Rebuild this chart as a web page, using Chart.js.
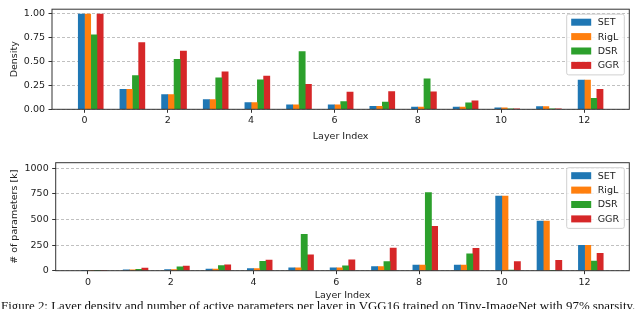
<!DOCTYPE html>
<html>
<head>
<meta charset="utf-8">
<script src="https://cdn.jsdelivr.net/npm/chart.js@4.4.0/dist/chart.umd.min.js"></script>
<style>
  html, body { margin: 0; padding: 0; background: #fff; overflow: hidden; }
  #wrap { position: relative; width: 640px; height: 309px; }
  canvas { position: absolute; left: 0; }
  #c1 { top: 0; }
  #c2 { top: 150px; }
  #caption {
    position: absolute; left: 1px; top: 300px;
    font-family: "Liberation Serif", serif; font-size: 12.9px; line-height: 12.9px;
    white-space: nowrap; color: #111;
  }
</style>
</head>
<body>
<div id="wrap">
  <canvas id="c1" width="640" height="146"></canvas>
  <canvas id="c2" width="640" height="152"></canvas>
  <div id="caption">Figure 2: Layer density and number of active parameters per layer in VGG16 trained on Tiny-ImageNet with 97% sparsity.</div>
</div>
<script>
const layers = [0, 1, 2, 3, 4, 5, 6, 7, 8, 9, 10, 11, 12];
const seriesNames = ['SET', 'RigL', 'DSR', 'GGR'];

const densitySET  = [1.00, 0.21, 0.155, 0.103, 0.071, 0.048, 0.048, 0.032, 0.022, 0.022, 0.016, 0.029, 0.306];
const densityRigL = [1.00, 0.21, 0.155, 0.103, 0.071, 0.048, 0.048, 0.032, 0.022, 0.022, 0.016, 0.029, 0.306];
const densityDSR  = [0.78, 0.355, 0.523, 0.33, 0.31, 0.606, 0.08, 0.077, 0.32, 0.068, 0.0002, 0.0002, 0.116];
const densityGGR  = [1.00, 0.70, 0.61, 0.393, 0.348, 0.261, 0.18, 0.187, 0.184, 0.09, 0.002, 0.004, 0.209];

const paramsSET  = [1.7, 7.7, 11.4, 15.2, 21, 28.3, 28.3, 40, 54, 54, 730, 485, 248];
const paramsRigL = [1.7, 7.7, 11.4, 15.2, 21, 28.3, 28.3, 40, 54, 54, 730, 485, 248];
const paramsDSR  = [1.3, 13, 38, 49, 91, 356, 47, 89, 762, 166, 5, 2, 93];
const paramsGGR  = [1.7, 26, 46, 58, 103, 154, 106, 221, 433, 219, 88, 101, 170];

const layerTicks = [0, 2, 4, 6, 8, 10, 12];
const densityTicks = [0, 0.25, 0.5, 0.75, 1.0];
const paramTicks = [0, 250, 500, 750, 1000];

const colors = ['#1f77b4', '#ff7f0e', '#2ca02c', '#d62728'];
const barWidth = 0.15;
const barPx = 6.2;
const font = { family: 'DejaVu Sans', size: 9.5 };

const framePlugin = {
  id: 'frame',
  afterDatasetsDraw(chart) {
    const { ctx, chartArea: a } = chart;
    ctx.save();
    ctx.strokeStyle = '#333';
    ctx.lineWidth = 1;
    ctx.strokeRect(a.left, a.top, a.right - a.left, a.bottom - a.top);
    ctx.restore();
  }
};

const legendPlugin = {
  id: 'boxLegend',
  afterDraw(chart) {
    const { ctx, chartArea: a } = chart;
    const w = 57.6, h = 60.7;
    const x = a.right - 5 - w, y = a.top + 5;
    ctx.save();
    ctx.beginPath();
    ctx.roundRect(x, y, w, h, 2);
    ctx.fillStyle = 'rgba(255,255,255,0.8)';
    ctx.fill();
    ctx.strokeStyle = '#d0d0d0';
    ctx.lineWidth = 1;
    ctx.stroke();
    ctx.font = '9.5px "DejaVu Sans"';
    ctx.textBaseline = 'middle';
    chart.data.datasets.forEach((ds, i) => {
      const cy = y + 8 + i * 14.4;
      ctx.fillStyle = ds.backgroundColor;
      ctx.fillRect(x + 4.5, cy - 3.5, 20, 7);
      ctx.fillStyle = '#222';
      ctx.fillText(ds.label, x + 31, cy + 0.5);
    });
    ctx.restore();
  }
};

function makeChart(id, seriesValues, yTicks, yMax, yTitle, yFmt, geo) {
  const datasets = seriesValues.map((vals, k) => ({
    label: seriesNames[k],
    data: vals.map((v, i) => ({ x: layers[i] + (k - 0.5) * barWidth, y: v })),
    backgroundColor: colors[k],
    barThickness: barPx,
    grouped: false,
    borderWidth: 0
  }));

  return new Chart(document.getElementById(id).getContext('2d'), {
    type: 'bar',
    data: { datasets },
    options: {
      responsive: false,
      animation: false,
      events: [],
      layout: { padding: { left: 0, right: 10.7, top: geo.top, bottom: 0 } },
      plugins: { legend: { display: false }, tooltip: { enabled: false } },
      scales: {
        x: {
          type: 'linear',
          offset: false,
          min: -0.78,
          max: 13.08,
          afterBuildTicks: s => { s.ticks = layerTicks.map(v => ({ value: v })); },
          afterFit: s => { s.height = geo.xh; },
          grid: { offset: false, drawOnChartArea: false, tickLength: 3.5, tickColor: '#333', tickWidth: 1 },
          border: { display: false },
          ticks: { font, color: '#222', padding: 2.5, maxRotation: 0, callback: v => String(v) },
          title: { display: true, text: 'Layer Index', font, color: '#222', padding: { top: 0, bottom: geo.titlePad } }
        },
        y: {
          min: 0,
          max: yMax,
          afterBuildTicks: s => { s.ticks = yTicks.map(v => ({ value: v })); },
          afterFit: s => { s.width = geo.yw; },
          grid: { color: '#b0b0b0', lineWidth: 0.8, tickLength: 3.5, tickColor: '#333', tickWidth: 1, tickBorderDash: [] },
          border: { display: false, dash: [3, 2] },
          ticks: { font, color: '#222', padding: 3.5, callback: yFmt },
          title: { display: true, text: yTitle, font, color: '#222', padding: { top: 9, bottom: 0 } }
        }
      }
    },
    plugins: [framePlugin, legendPlugin]
  });
}

makeChart('c1', [densitySET, densityRigL, densityDSR, densityGGR], densityTicks, 1.05, 'Density',
  v => v.toFixed(2), { top: 1, xh: 36.7, yw: 52, titlePad: 3.8 });

makeChart('c2', [paramsSET, paramsRigL, paramsDSR, paramsGGR], paramTicks, 1055, '# of parameters [k]',
  v => String(v), { top: 12.7, xh: 31.3, yw: 55.7, titlePad: 0.3 });
</script>
</body>
</html>
